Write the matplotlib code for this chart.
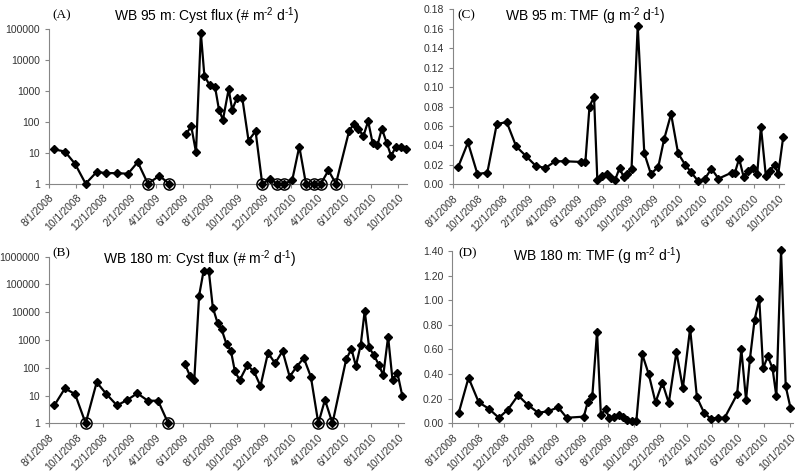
import matplotlib
matplotlib.use('Agg')
import matplotlib.pyplot as plt
import matplotlib.dates as mdates
import matplotlib.ticker as mticker
import pandas as pd

plt.rcParams['font.family'] = ['Liberation Sans', 'DejaVu Sans']
plt.rcParams['mathtext.fontset'] = 'custom'
plt.rcParams['mathtext.rm'] = 'Liberation Sans'
plt.rcParams['mathtext.it'] = 'Liberation Sans:italic'

# WB 95 m cyst flux (A); points 0-11 then a gap, then 12-
a_dates = ['2008-08-12', '2008-09-06', '2008-09-29', '2008-10-23', '2008-11-17', '2008-12-09',
           '2009-01-02', '2009-01-27', '2009-02-18', '2009-03-13', '2009-04-08', '2009-04-30',
           '2009-06-08', '2009-06-19', '2009-06-30', '2009-07-11', '2009-07-19', '2009-07-31',
           '2009-08-12', '2009-08-21', '2009-08-30', '2009-09-12', '2009-09-20', '2009-10-01',
           '2009-10-13', '2009-10-27', '2009-11-12', '2009-11-27', '2009-12-15', '2009-12-31',
           '2010-01-16', '2010-02-03', '2010-02-19', '2010-03-06', '2010-03-24', '2010-04-09',
           '2010-04-26', '2010-05-13', '2010-06-12', '2010-06-23', '2010-07-03', '2010-07-14',
           '2010-07-25', '2010-08-04', '2010-08-15', '2010-08-25', '2010-09-05', '2010-09-15',
           '2010-09-26', '2010-10-07', '2010-10-19']
a_vals = [13, 11, 4.4, 1, 2.4, 2.2, 2.2, 2.1, 5, 1, 1.8, 1,
          40, 75, 10.5, 76000, 3100, 1550, 1400, 250, 117, 1150, 250, 600, 575, 25, 50, 1, 1.4, 1,
          1, 1.3, 16, 1, 1, 1, 2.7, 1, 52, 87, 61, 34, 106, 21, 17.5, 61, 21, 7.9, 16, 16, 13.5]
a_open = [9, 11, 27, 29, 30, 33, 34, 35, 37]
a_split = 12

# WB 180 m cyst flux (B)
b_dates = ['2008-08-13', '2008-09-06', '2008-09-29', '2008-10-23', '2008-11-17', '2008-12-09',
           '2009-01-02', '2009-01-25', '2009-02-17', '2009-03-13', '2009-04-05', '2009-04-28',
           '2009-06-05', '2009-06-16', '2009-06-26', '2009-07-07', '2009-07-17', '2009-07-29',
           '2009-08-07', '2009-08-18', '2009-08-27', '2009-09-07', '2009-09-17', '2009-09-26',
           '2009-10-07', '2009-10-24', '2009-11-08', '2009-11-23', '2009-12-10', '2009-12-26',
           '2010-01-12', '2010-01-28', '2010-02-13', '2010-03-01', '2010-03-17', '2010-04-03',
           '2010-04-18', '2010-05-05', '2010-06-05', '2010-06-17', '2010-06-27', '2010-07-08',
           '2010-07-17', '2010-07-27', '2010-08-07', '2010-08-18', '2010-08-28', '2010-09-08',
           '2010-09-18', '2010-09-29', '2010-10-10']
b_vals = [4.4, 18, 11.3, 1, 30, 11.3, 4.4, 6.9, 12, 6.5, 6.5, 1,
          135, 52, 36, 40000, 300000, 300000, 14800, 4000, 2400, 710, 410, 74, 36, 122, 75, 22,
          347, 145, 400, 48, 110, 224, 48, 1, 7, 1, 200, 480, 115, 670, 11200, 540, 280, 128, 53,
          1310, 36, 66, 10]
b_open = [3, 11, 35, 37]
b_split = 12

# WB 95 m total mass flux (C)
c_dates = ['2008-08-14', '2008-09-07', '2008-09-30', '2008-10-24', '2008-11-16', '2008-12-10',
           '2009-01-02', '2009-01-26', '2009-02-19', '2009-03-14', '2009-04-07', '2009-04-30',
           '2009-06-08', '2009-06-19', '2009-06-29', '2009-07-10', '2009-07-18', '2009-07-30',
           '2009-08-10', '2009-08-21', '2009-08-30', '2009-09-10', '2009-09-20', '2009-09-29',
           '2009-10-09', '2009-10-24', '2009-11-09', '2009-11-25', '2009-12-13', '2009-12-27',
           '2010-01-13', '2010-01-30', '2010-02-16', '2010-03-02', '2010-03-20', '2010-04-05',
           '2010-04-21', '2010-05-08', '2010-06-09', '2010-06-17', '2010-06-27', '2010-07-08',
           '2010-07-19', '2010-07-31', '2010-08-10', '2010-08-19', '2010-08-31', '2010-09-09',
           '2010-09-21', '2010-09-30', '2010-10-12']
c_vals = [0.0175, 0.043, 0.0106, 0.012, 0.062, 0.064, 0.039, 0.029, 0.0188, 0.0168,
          0.0237, 0.0237, 0.023, 0.023, 0.080, 0.090, 0.0044, 0.0085, 0.0106, 0.0065,
          0.0044, 0.0168, 0.0072, 0.0106, 0.016, 0.163, 0.0319, 0.0106, 0.0181, 0.0463,
          0.0723, 0.0319, 0.0202, 0.0127, 0.0031, 0.0058, 0.016, 0.0058, 0.012, 0.012,
          0.0264, 0.0078, 0.0134, 0.0168, 0.0106, 0.0593, 0.0085, 0.0134, 0.0202, 0.0106, 0.0484]

# WB 180 m total mass flux (D)
d_dates = ['2008-08-16', '2008-09-08', '2008-10-02', '2008-10-25', '2008-11-18', '2008-12-09',
           '2009-01-02', '2009-01-25', '2009-02-18', '2009-03-13', '2009-04-06', '2009-04-26',
           '2009-06-05', '2009-06-14', '2009-06-25', '2009-07-06', '2009-07-15', '2009-07-26',
           '2009-08-04', '2009-08-15', '2009-08-26', '2009-09-04', '2009-09-15', '2009-09-25',
           '2009-10-06', '2009-10-20', '2009-11-04', '2009-11-20', '2009-12-06', '2009-12-21',
           '2010-01-08', '2010-01-23', '2010-02-09', '2010-02-25', '2010-03-14', '2010-03-29',
           '2010-04-15', '2010-05-01', '2010-05-30', '2010-06-09', '2010-06-20', '2010-06-29',
           '2010-07-10', '2010-07-21', '2010-07-30', '2010-08-10', '2010-08-21', '2010-08-30',
           '2010-09-10', '2010-09-21', '2010-10-02']
d_vals = [0.084, 0.37, 0.17, 0.12, 0.045, 0.11, 0.227, 0.149, 0.086, 0.097,
          0.13, 0.045, 0.054, 0.17, 0.224, 0.744, 0.065, 0.116, 0.04, 0.055,
          0.067, 0.05, 0.03, 0.02, 0.015, 0.56, 0.40, 0.17, 0.33, 0.165,
          0.58, 0.284, 0.77, 0.21, 0.084, 0.038, 0.045, 0.045, 0.235, 0.60,
          0.19, 0.52, 0.84, 1.01, 0.447, 0.544, 0.447, 0.22, 1.405, 0.30, 0.127]

W, H = 800, 471
fig = plt.figure(figsize=(8, 4.71), dpi=100)


def px_axes(left, top, right, bottom):
    return fig.add_axes([left / W, 1 - bottom / H, (right - left) / W, (bottom - top) / H])


def date_fmt(x, pos=None):
    d = mdates.num2date(x)
    return f'{d.month}/{d.day}/{d.year}'


def style(ax, xmax):
    for s in ['top', 'right']:
        ax.spines[s].set_visible(False)
    for s in ['left', 'bottom']:
        ax.spines[s].set_color('#868686')
        ax.spines[s].set_linewidth(0.8)
    ax.set_xlim(pd.Timestamp('2008-08-01'), pd.Timestamp(xmax))
    ax.xaxis.set_major_locator(mdates.MonthLocator(bymonth=[2, 4, 6, 8, 10, 12], bymonthday=1))
    ax.xaxis.set_major_formatter(mticker.FuncFormatter(date_fmt))
    ax.tick_params(axis='both', colors='#868686', labelcolor='#333333', labelsize=7.5,
                   length=3, width=0.8)
    plt.setp(ax.get_xticklabels(), rotation=45, ha='right', rotation_mode='anchor')


def plot_series(ax, dates, vals, split=None, opened=()):
    x = pd.to_datetime(dates)
    parts = [(0, len(vals))] if split is None else [(0, split), (split, len(vals))]
    for i0, i1 in parts:
        ax.plot(x[i0:i1], vals[i0:i1], color='black', lw=1.6, marker='D', ms=4.2,
                zorder=3, clip_on=False)
    for i in opened:
        ax.plot(x[i], vals[i], 'o', ms=8, mfc='none', mec='black', mew=1.1,
                zorder=4, clip_on=False)


def label(x, y, txt, size, family=None):
    fig.text(x / W, 1 - y / H, txt, fontsize=size, ha='center', va='center',
             family=family if family else ['Liberation Sans'])


# (A)
ax = px_axes(49, 29.3, 407, 183.7)
plot_series(ax, a_dates, a_vals, a_split, a_open)
ax.set_yscale('log')
ax.set_ylim(1, 100000)
ax.yaxis.set_major_locator(mticker.LogLocator(base=10, numticks=10))
ax.yaxis.set_minor_locator(mticker.NullLocator())
ax.yaxis.set_major_formatter(mticker.FuncFormatter(lambda v, p: f'{v:.0f}'))
style(ax, '2010-10-21')

# (B)
ax = px_axes(49, 256.7, 404, 423.3)
plot_series(ax, b_dates, b_vals, b_split, b_open)
ax.set_yscale('log')
ax.set_ylim(1, 1000000)
ax.yaxis.set_major_locator(mticker.LogLocator(base=10, numticks=10))
ax.yaxis.set_minor_locator(mticker.NullLocator())
ax.yaxis.set_major_formatter(mticker.FuncFormatter(lambda v, p: f'{v:.0f}'))
style(ax, '2010-10-14')

# (C)
ax = px_axes(452.7, 9.3, 784, 184.3)
plot_series(ax, c_dates, c_vals)
ax.set_ylim(0, 0.18)
ax.yaxis.set_major_locator(mticker.MultipleLocator(0.02))
ax.yaxis.set_major_formatter(mticker.FormatStrFormatter('%.2f'))
style(ax, '2010-10-14')

# (D)
ax = px_axes(452.3, 251, 793, 423.3)
plot_series(ax, d_dates, d_vals)
ax.set_ylim(0, 1.4)
ax.yaxis.set_major_locator(mticker.MultipleLocator(0.2))
ax.yaxis.set_major_formatter(mticker.FormatStrFormatter('%.2f'))
style(ax, '2010-10-08')

label(206.7, 16.5, r'WB 95 m: Cyst flux (# m$^{\text{-2}}$ d$^{\text{-1}}$)', 10)
label(585, 16, r'WB 95 m: TMF (g m$^{\text{-2}}$ d$^{\text{-1}}$)', 10)
label(199.5, 259, r'WB 180 m: Cyst flux (# m$^{\text{-2}}$ d$^{\text{-1}}$)', 10)
label(597.5, 256, r'WB 180 m: TMF (g m$^{\text{-2}}$ d$^{\text{-1}}$)', 10)
label(62, 15.5, '(A)', 9.5, ['Liberation Serif'])
label(466, 15, '(C)', 9.5, ['Liberation Serif'])
label(61, 253, '(B)', 9.5, ['Liberation Serif'])
label(468, 253, '(D)', 9.5, ['Liberation Serif'])

fig.savefig('out.png', dpi=100)
